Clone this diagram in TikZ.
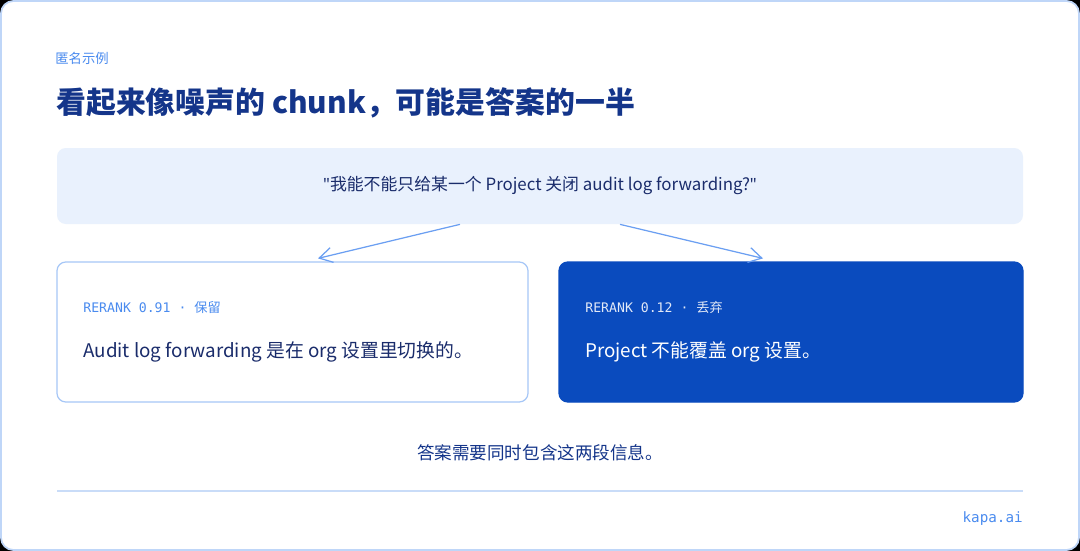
\documentclass[tikz,border=0pt]{standalone}
\usepackage{fontspec}
\setmainfont{Noto Sans CJK SC}
\setmonofont{DejaVu Sans Mono}
\newfontfamily\cjk{Noto Sans CJK SC}
\newfontfamily\latin{Noto Sans}
\usepackage{tikz}
\usetikzlibrary{arrows.meta, positioning, calc}
\definecolor{Frame}{HTML}{BFD6F8}
\definecolor{Sky}{HTML}{4A8BEF}
\definecolor{Navy}{HTML}{14358A}
\definecolor{Ink}{HTML}{1A2C6B}
\definecolor{SoftBlue}{HTML}{E9F1FD}
\definecolor{CardLine}{HTML}{A7C7F7}
\definecolor{Royal}{HTML}{0A4BBE}
\definecolor{Arrow}{HTML}{6B9FF2}
\definecolor{Rule}{HTML}{C9DCF8}

\begin{document}
\begin{tikzpicture}[
        x=0.02cm,
        y=-0.02cm,
        font=\fontsize{10}{12}\selectfont,
        flow/.style={-{Straight Barb[length=2.6mm,width=3mm]}, line width=0.7pt, draw=Arrow},
        card/.style={rounded corners=5pt, minimum height=140*0.02cm, line width=0.7pt, inner sep=0pt},
        keep/.style={card, minimum width=471*0.02cm, draw=CardLine, fill=white},
        drop/.style={card, minimum width=464*0.02cm, draw=Royal, fill=Royal},
        tag/.style={anchor=west, inner sep=0pt, font=\ttfamily\fontsize{7.5}{9}\selectfont},
        claim/.style={anchor=west, inner sep=0pt, font=\fontsize{10.7}{13}\selectfont}
      ]
        \useasboundingbox (0,0) rectangle (1080,551);
        \fill[black] (0,0) rectangle (1080,551);
        \draw[Frame, fill=white, line width=1pt, rounded corners=7pt] (1,1) rectangle (1079,550);

        \node[anchor=west, inner sep=0pt, text=Sky, font=\fontsize{7.6}{9}\selectfont] (kicker) at (55,58) {匿名示例};
        \node[anchor=west, inner sep=0pt, text=Navy, font=\bfseries\fontsize{17}{20}\selectfont] (title) at (56,103) {看起来像噪声的 chunk，可能是答案的一半};

        \node[fill=SoftBlue, rounded corners=5pt, minimum width=966*0.02cm, minimum height=76*0.02cm, text=Ink, font=\fontsize{9.6}{12}\selectfont] (question) at (540,186) {{\latin "}我能不能只给某一个 Project 关闭 audit log forwarding?{\latin "}};

        \node[keep] (kept) at (292.5,332) {};
        \node[drop] (dropped) at (791,332) {};

        \node[tag, text=Sky] (keptTag) at (83,307) {RERANK 0.91 · {\cjk 保留}};
        \node[claim, text=Ink] (keptText) at (83,352) {Audit log forwarding 是在 org 设置里切换的。};
        \node[tag, text=white!88!Royal] (droppedTag) at (585,307) {RERANK 0.12 · {\cjk 丢弃}};
        \node[claim, text=white] (droppedText) at (585,352) {Project 不能覆盖 org 设置。};

        \draw[flow] ($(question.south)+(-80,0)$) -- ($(kept.north)+(25.5,-3)$);
        \draw[flow] ($(question.south)+(80,0)$) -- ($(dropped.north)+(-28,-3)$);

        \node[text=Navy, font=\fontsize{10}{12}\selectfont] (summary) at (540,453) {答案需要同时包含这两段信息。};
        \coordinate (ruleL) at (57,491);
        \coordinate (ruleR) at (1023,491);
        \draw[Rule, line width=0.7pt] (ruleL) -- (ruleR);
        \node[anchor=east, inner sep=0pt, text=Sky, font=\ttfamily\fontsize{8.1}{10}\selectfont] (brand) at (1023,519) {kapa.ai};
      \end{tikzpicture}
\end{document}
